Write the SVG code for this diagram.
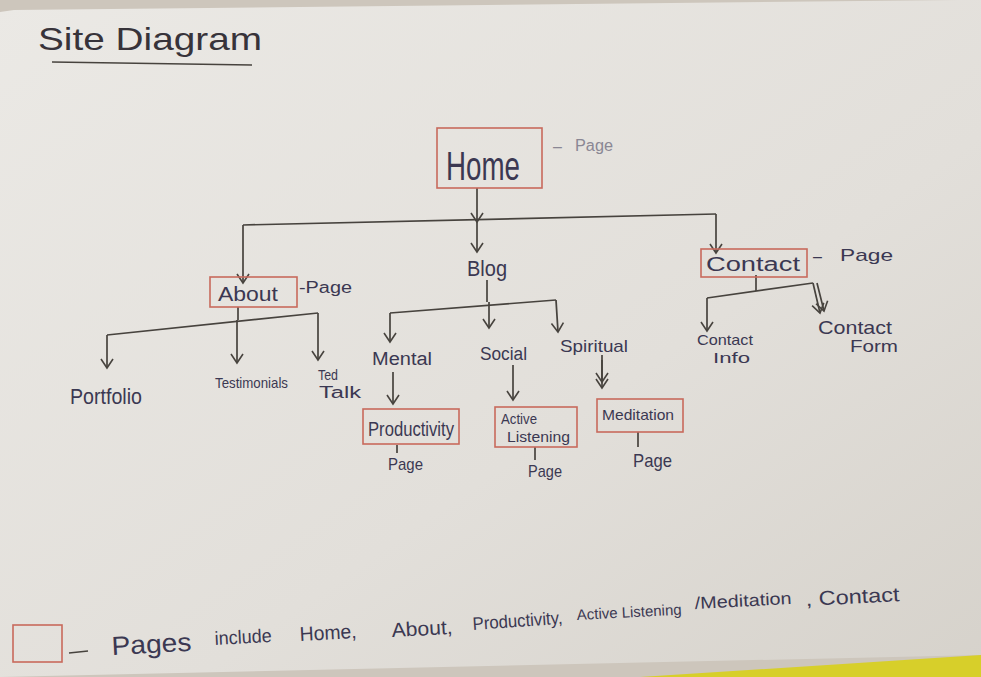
<svg xmlns="http://www.w3.org/2000/svg" width="981" height="677" viewBox="0 0 981 677">
<defs>
<linearGradient id="paper" x1="0" y1="0" x2="1" y2="1">
<stop offset="0" stop-color="#ebe9e5"/>
<stop offset="0.6" stop-color="#e2dfda"/>
<stop offset="1" stop-color="#d6d2cb"/>
</linearGradient>
<marker id="arr" viewBox="-10 -7 12 14" refX="0" refY="0" markerWidth="12" markerHeight="14" markerUnits="userSpaceOnUse" orient="auto">
<path d="M-9,-6 L0,0 L-9,6" fill="none" stroke="#47433e" stroke-width="1.6"/>
</marker>
</defs>
<style>
.ink{font-family:"Liberation Sans","DejaVu Sans",sans-serif;fill:#3b3852;}
.lbl{font-family:"Liberation Sans","DejaVu Sans",sans-serif;fill:#8a8794;}
.box{fill:none;stroke:#c86a5c;stroke-width:1.6;}
.ln{fill:none;stroke:#47433e;stroke-width:1.7;}
</style>
<rect x="0" y="0" width="981" height="677" fill="#cdc6bc"/>
<polygon points="14,10 958,0 981,0 981,655 0,677 0,12" fill="url(#paper)"/>
<polygon points="640,677 981,655 981,677" fill="#d7cf2a"/>

<g id="title">
<text class="ink" x="38" y="50" font-size="32" textLength="224" lengthAdjust="spacingAndGlyphs" style="fill:#37333a">Site  Diagram</text>
<path d="M52,62 L252,65" class="ln" stroke-width="2"/>
</g>

<g id="connectors">
<path class="ln" d="M477,188 L477,222" marker-end="url(#arr)"/>
<path class="ln" d="M243,225 L716,214"/>
<path class="ln" d="M243,225 L243,283" marker-end="url(#arr)"/>
<path class="ln" d="M477,222 L477,252" marker-end="url(#arr)"/>
<path class="ln" d="M716,214 L716,253" marker-end="url(#arr)"/>
<path class="ln" d="M238,307 L238,320"/>
<path class="ln" d="M107,335 L318,313"/>
<path class="ln" d="M107,335 L107,368" marker-end="url(#arr)"/>
<path class="ln" d="M237,320 L237,363" marker-end="url(#arr)"/>
<path class="ln" d="M318,313 L318,360" marker-end="url(#arr)"/>
<path class="ln" d="M487,280 L487,302"/>
<path class="ln" d="M390,313 L556,300"/>
<path class="ln" d="M390,313 L390,342" marker-end="url(#arr)"/>
<path class="ln" d="M489,302 L489,328" marker-end="url(#arr)"/>
<path class="ln" d="M556,300 L558,332" marker-end="url(#arr)"/>
<path class="ln" d="M393,372 L393,404" marker-end="url(#arr)"/>
<path class="ln" d="M513,365 L513,400" marker-end="url(#arr)"/>
<path class="ln" d="M602,355 L602,382" marker-end="url(#arr)"/>
<path class="ln" d="M602,360 L602,388" marker-end="url(#arr)"/>
<path class="ln" d="M756,275 L756,291"/>
<path class="ln" d="M707,298 L813,283"/>
<path class="ln" d="M707,298 L707,331" marker-end="url(#arr)"/>
<path class="ln" d="M813,283 L820,313" marker-end="url(#arr)"/>
<path class="ln" d="M817,283 L824,311" marker-end="url(#arr)"/>
<path class="ln" d="M397,445 L397,453" stroke-width="1.2"/>
<path class="ln" d="M535,447 L535,460" stroke-width="1.2"/>
<path class="ln" d="M638,432 L638,447" stroke-width="1.2"/>
</g>

<g id="home">
<rect class="box" x="437" y="128" width="105" height="60"/>
<text class="ink" x="446" y="180" font-size="40" textLength="74" lengthAdjust="spacingAndGlyphs">Home</text>
<text class="lbl" x="553" y="152" font-size="16">–</text>
<text class="lbl" x="575" y="151" font-size="16" textLength="38" lengthAdjust="spacingAndGlyphs">Page</text>
</g>

<g id="about">
<rect class="box" x="210" y="277" width="87" height="30"/>
<text class="ink" x="218" y="301" font-size="20" textLength="60" lengthAdjust="spacingAndGlyphs">About</text>
<text class="ink" x="299" y="293" font-size="16" textLength="53" lengthAdjust="spacingAndGlyphs">-Page</text>
</g>

<g id="blog">
<text class="ink" x="467" y="276" font-size="22" textLength="40" lengthAdjust="spacingAndGlyphs">Blog</text>
</g>

<g id="contact">
<rect class="box" x="701" y="249" width="106" height="28"/>
<text class="ink" x="706" y="271" font-size="20" textLength="94" lengthAdjust="spacingAndGlyphs">Contact</text>
<text class="ink" x="813" y="262" font-size="16">–</text>
<text class="ink" x="840" y="261" font-size="17" textLength="53" lengthAdjust="spacingAndGlyphs">Page</text>
</g>

<g id="portfolio">
<text class="ink" x="70" y="404" font-size="22" textLength="72" lengthAdjust="spacingAndGlyphs">Portfolio</text>
</g>
<g id="testimonials">
<text class="ink" x="215" y="388" font-size="15" textLength="73" lengthAdjust="spacingAndGlyphs">Testimonials</text>
</g>
<g id="tedtalk">
<text class="ink" x="318" y="380" font-size="14" textLength="20" lengthAdjust="spacingAndGlyphs">Ted</text>
<text class="ink" x="319" y="398" font-size="16" textLength="42" lengthAdjust="spacingAndGlyphs">Talk</text>
</g>

<g id="mental">
<text class="ink" x="372" y="365" font-size="18" textLength="60" lengthAdjust="spacingAndGlyphs">Mental</text>
</g>
<g id="social">
<text class="ink" x="480" y="360" font-size="18" textLength="47" lengthAdjust="spacingAndGlyphs">Social</text>
</g>
<g id="spiritual">
<text class="ink" x="560" y="352" font-size="17" textLength="68" lengthAdjust="spacingAndGlyphs">Spiritual</text>
</g>

<g id="productivity">
<rect class="box" x="363" y="409" width="96" height="35"/>
<text class="ink" x="368" y="436" font-size="20" textLength="86" lengthAdjust="spacingAndGlyphs">Productivity</text>
<text class="ink" x="388" y="470" font-size="17" textLength="35" lengthAdjust="spacingAndGlyphs">Page</text>
</g>

<g id="activelistening">
<rect class="box" x="495" y="407" width="82" height="40"/>
<text class="ink" x="501" y="424" font-size="15" textLength="36" lengthAdjust="spacingAndGlyphs">Active</text>
<text class="ink" x="507" y="442" font-size="15" textLength="63" lengthAdjust="spacingAndGlyphs">Listening</text>
<text class="ink" x="528" y="477" font-size="17" textLength="34" lengthAdjust="spacingAndGlyphs">Page</text>
</g>

<g id="meditation">
<rect class="box" x="597" y="399" width="86" height="33"/>
<text class="ink" x="602" y="420" font-size="15" textLength="72" lengthAdjust="spacingAndGlyphs">Meditation</text>
<text class="ink" x="633" y="467" font-size="19" textLength="39" lengthAdjust="spacingAndGlyphs">Page</text>
</g>

<g id="contactinfo">
<text class="ink" x="697" y="345" font-size="15" textLength="56" lengthAdjust="spacingAndGlyphs">Contact</text>
<text class="ink" x="713" y="363" font-size="15" textLength="37" lengthAdjust="spacingAndGlyphs">Info</text>
</g>
<g id="contactform">
<text class="ink" x="818" y="334" font-size="19" textLength="74" lengthAdjust="spacingAndGlyphs">Contact</text>
<text class="ink" x="850" y="352" font-size="16" textLength="48" lengthAdjust="spacingAndGlyphs">Form</text>
</g>

<g id="legend">
<rect class="box" x="13" y="625" width="49" height="37"/>
<path class="ln" d="M69,653 L88,651" stroke-width="1.6"/>
<text class="ink" x="112" y="655" font-size="26" textLength="80" lengthAdjust="spacingAndGlyphs" transform="rotate(-3 112 655)">Pages</text>
<text class="ink" x="215" y="645" font-size="19" textLength="57" lengthAdjust="spacingAndGlyphs" transform="rotate(-3 215 645)">include</text>
<text class="ink" x="300" y="641" font-size="20" textLength="57" lengthAdjust="spacingAndGlyphs" transform="rotate(-3 300 641)">Home,</text>
<text class="ink" x="392" y="637" font-size="20" textLength="61" lengthAdjust="spacingAndGlyphs" transform="rotate(-3 392 637)">About,</text>
<text class="ink" x="473" y="630" font-size="18" textLength="90" lengthAdjust="spacingAndGlyphs" transform="rotate(-4 473 630)">Productivity,</text>
<text class="ink" x="577" y="620" font-size="15" textLength="105" lengthAdjust="spacingAndGlyphs" transform="rotate(-3 577 620)">Active Listening</text>
<text class="ink" x="695" y="609" font-size="17" textLength="97" lengthAdjust="spacingAndGlyphs" transform="rotate(-3 695 609)">/Meditation</text>
<text class="ink" x="806" y="606" font-size="20" textLength="94" lengthAdjust="spacingAndGlyphs" transform="rotate(-3 806 606)">, Contact</text>
</g>
</svg>
